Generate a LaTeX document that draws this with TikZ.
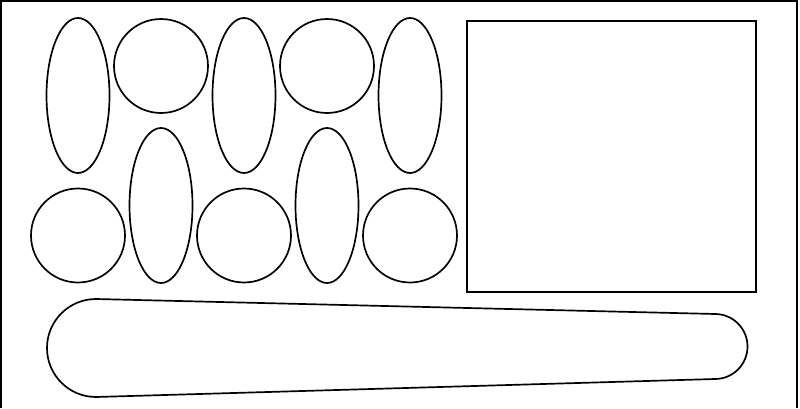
\documentclass[tikz,border=0pt]{standalone}
\usepackage{tikz}

\begin{document}
\begin{tikzpicture}[
  x=0.025cm, y=0.025cm,
  piece/.style={
    draw=black, line width=1.2pt
  },
  frameline/.style={
    draw=black, line width=1.8pt
  }
]
  \useasboundingbox (0,0) rectangle (800,408);

  % Open frame (no bottom edge)
  \draw[frameline] (1,0) -- (1,407) -- (797,407) -- (797,0);

  % Top row: tall ovals and discs
  \foreach \cx in {78,244,410}
    \draw[piece] (\cx,312.5) ellipse [x radius=31.5, y radius=77.5];
  \foreach \cx in {161,327}
    \draw[piece] (\cx,342) circle [radius=47];

  % Bottom row: discs and tall ovals
  \foreach \cx in {78,244,410}
    \draw[piece] (\cx,172.5) circle [radius=47];
  \foreach \cx in {161,327}
    \draw[piece] (\cx,202.5) ellipse [x radius=31.5, y radius=77.5];

  % Square plate
  \draw[piece] (467,116) rectangle (756,387);

  % Tapered bar
  \draw[piece] (96,109) -- (715,94)
    arc [start angle=90, end angle=-90, radius=32.5]
    -- (96,11)
    arc [start angle=270, end angle=90, radius=49] -- cycle;
\end{tikzpicture}
\end{document}
